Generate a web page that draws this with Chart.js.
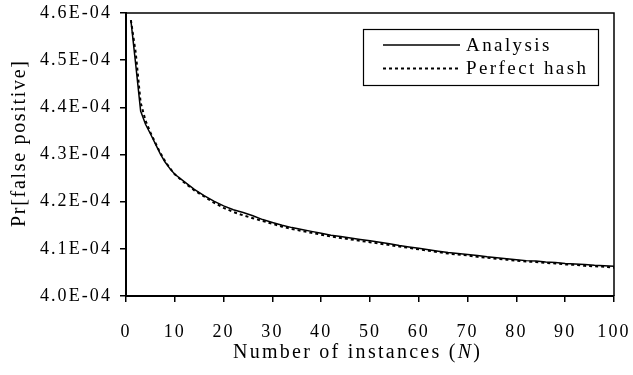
<!DOCTYPE html>
<html>
<head>
<meta charset="utf-8">
<script src="https://cdn.jsdelivr.net/npm/chart.js@4.4.1/dist/chart.umd.min.js"></script>
<style>
  html, body { margin: 0; padding: 0; background: #fff; }
  #wrap { width: 633px; height: 375px; }
</style>
</head>
<body>
<div id="wrap"><canvas id="chart1"></canvas></div>
<script>
// number of instances N
const instances = [1, 2, 3, 4, 5, 6, 7, 8, 9, 10, 12, 14, 16, 18, 20, 22, 24, 26, 28, 30,
  32, 34, 36, 38, 40, 42, 44, 46, 48, 50, 52, 54, 56, 58, 60, 62, 64, 66, 68, 70,
  72, 74, 76, 78, 80, 82, 84, 86, 88, 90, 92, 94, 96, 98, 100];

// Pr[false positive], in units of 1E-04
const analysis = [4.585, 4.490, 4.392, 4.364, 4.344, 4.323, 4.302, 4.284, 4.270, 4.258,
  4.242, 4.226, 4.213, 4.201, 4.191, 4.183, 4.177, 4.170, 4.162, 4.156,
  4.150, 4.145, 4.141, 4.137, 4.133, 4.129, 4.126, 4.123, 4.120, 4.117,
  4.114, 4.111, 4.107, 4.104, 4.101, 4.098, 4.095, 4.092, 4.090, 4.088,
  4.086, 4.083, 4.081, 4.079, 4.077, 4.075, 4.074, 4.072, 4.071, 4.069,
  4.068, 4.067, 4.065, 4.064, 4.063];

const perfectHash = [4.585, 4.515, 4.410, 4.372, 4.347, 4.325, 4.304, 4.286, 4.271, 4.258,
  4.240, 4.224, 4.211, 4.198, 4.187, 4.178, 4.171, 4.165, 4.159, 4.153,
  4.147, 4.142, 4.138, 4.134, 4.130, 4.126, 4.123, 4.120, 4.117, 4.114,
  4.111, 4.108, 4.105, 4.102, 4.099, 4.096, 4.093, 4.090, 4.088, 4.086,
  4.083, 4.081, 4.079, 4.077, 4.075, 4.073, 4.072, 4.070, 4.069, 4.067,
  4.066, 4.064, 4.063, 4.062, 4.060];

const FONT = '"Liberation Serif", "Times New Roman", serif';
const TICK_SIZE = 18;
const TITLE_SIZE = 20;

function points(ys) {
  return instances.map((n, i) => ({ x: n, y: ys[i] }));
}

// letter spacing that stretches a string to a given width
function spacingFor(ctx, font, text, width) {
  ctx.save();
  ctx.letterSpacing = '0px';
  ctx.font = font;
  const w = ctx.measureText(text).width;
  ctx.restore();
  return Math.max(0, (width - w) / (text.length - 1));
}

// draws a run of [text, font] parts with letter spacing, starting at x
function drawRun(ctx, parts, x, y, sp) {
  parts.forEach(p => {
    ctx.font = p[1];
    ctx.letterSpacing = '0px';
    const w = ctx.measureText(p[0]).width;
    ctx.letterSpacing = sp + 'px';
    ctx.fillText(p[0], x, y);
    x += w + sp * p[0].length;
  });
}

let tickSpacing = 0;

const data = {
  datasets: [{
    label: 'Analysis',
    data: points(analysis),
    borderColor: '#000',
    borderWidth: 1.5,
    pointRadius: 0,
    tension: 0
  }, {
    label: 'Perfect hash',
    data: points(perfectHash),
    borderColor: '#000',
    borderWidth: 2,
    borderDash: [3, 3],
    pointRadius: 0,
    tension: 0
  }]
};

// frame, boxed legend and axis titles
const decorations = {
  id: 'decorations',
  beforeLayout(chart) {
    tickSpacing = spacingFor(chart.ctx, TICK_SIZE + 'px ' + FONT, '4.6E-04', 70);
    chart.ctx.letterSpacing = tickSpacing + 'px';
  },
  beforeDraw(chart) { chart.ctx.letterSpacing = tickSpacing + 'px'; },
  afterDraw(chart) {
    const ctx = chart.ctx;
    const a = chart.chartArea;
    ctx.save();
    ctx.strokeStyle = '#000';
    ctx.fillStyle = '#000';

    // top and right edges of the plot box
    ctx.lineWidth = 1.5;
    ctx.beginPath();
    ctx.moveTo(a.left, a.top);
    ctx.lineTo(a.right, a.top);
    ctx.lineTo(a.right, a.bottom);
    ctx.stroke();

    // legend
    ctx.lineWidth = 1.2;
    ctx.strokeRect(363.5, 29.5, 235, 56);
    const legendFont = (TITLE_SIZE - 1) + 'px ' + FONT;
    const legSp = spacingFor(ctx, legendFont, 'Perfect hash', 120);
    ctx.textBaseline = 'middle';
    ctx.textAlign = 'left';
    const rows = [45, 68.5];
    chart.data.datasets.forEach((ds, i) => {
      const y = rows[i];
      ctx.lineWidth = ds.borderWidth;
      ctx.setLineDash(ds.borderDash || []);
      ctx.beginPath();
      ctx.moveTo(383, y);
      ctx.lineTo(460, y);
      ctx.stroke();
      ctx.setLineDash([]);
      drawRun(ctx, [[ds.label, legendFont]], 466, y + 1, legSp);
    });

    // x title with italic N
    const reg = TITLE_SIZE + 'px ' + FONT;
    const ita = 'italic ' + TITLE_SIZE + 'px ' + FONT;
    const xSp = spacingFor(ctx, reg, 'Number of instances (N)', 248);
    drawRun(ctx, [['Number of instances (', reg], ['N', ita], [')', reg]], 233, 353, xSp);

    // y title
    const ySp = spacingFor(ctx, reg, 'Pr[false positive]', 166);
    ctx.translate(20, 227);
    ctx.rotate(-Math.PI / 2);
    drawRun(ctx, [['Pr[false positive]', reg]], 0, 0, ySp);
    ctx.restore();
  }
};

const config = {
  type: 'line',
  data: data,
  options: {
    responsive: true,
    maintainAspectRatio: false,
    animation: false,
    layout: {
      padding: { top: 13, right: 19, left: 0, bottom: 0 }
    },
    scales: {
      x: {
        type: 'linear',
        min: 0,
        max: 100,
        afterFit(scale) {
          scale.height = 79;
          scale.paddingLeft = 0;
          scale.paddingRight = 0;
        },
        ticks: {
          stepSize: 10,
          color: '#000',
          padding: 19,
          maxRotation: 0,
          font: { family: FONT, size: TICK_SIZE }
        },
        grid: {
          drawOnChartArea: false,
          drawTicks: true,
          tickLength: 6,
          color: '#000',
          lineWidth: 1.5
        },
        border: { color: '#000', width: 2 }
      },
      y: {
        min: 4.0,
        max: 4.6,
        afterFit(scale) {
          scale.width = 126;
          scale.paddingTop = 0;
          scale.paddingBottom = 0;
        },
        ticks: {
          stepSize: 0.1,
          color: '#000',
          padding: 8,
          font: { family: FONT, size: TICK_SIZE },
          callback: v => v.toFixed(1) + 'E-04'
        },
        grid: {
          drawOnChartArea: false,
          drawTicks: true,
          tickLength: 6,
          color: '#000',
          lineWidth: 1.5
        },
        border: { color: '#000', width: 2 }
      }
    },
    plugins: {
      legend: { display: false },
      tooltip: { enabled: false }
    }
  },
  plugins: [decorations]
};

var myChart = new Chart(
  document.getElementById('chart1'),
  config
);
</script>
</body>
</html>
